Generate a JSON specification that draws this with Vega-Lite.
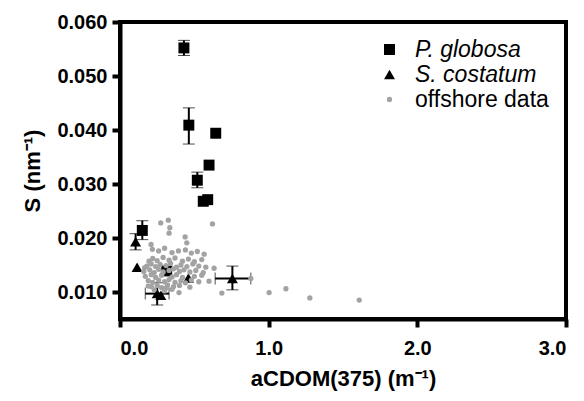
{
  "$schema": "https://vega.github.io/schema/vega-lite/v6.json",
  "width": 446,
  "height": 297,
  "autosize": "none",
  "padding": {"left": 120, "top": 22, "right": 18, "bottom": 82},
  "background": "white",
  "config": {
    "view": {"stroke": "black", "strokeWidth": 4},
    "axis": {
      "grid": false,
      "domainColor": "black", "domainWidth": 4,
      "tickColor": "black", "tickWidth": 4, "tickSize": 8,
      "labelFont": "Liberation Sans", "labelFontWeight": "bold", "labelFontSize": 20, "labelColor": "black",
      "titleFont": "Liberation Sans", "titleFontWeight": "bold", "titleFontSize": 22, "titleColor": "black"
    },
    "legend": {
      "labelFont": "Liberation Sans", "labelFontSize": 23, "labelColor": "black"
    }
  },
  "datasets": {
    "marks": [
      {"group": "P. globosa", "x": 0.43, "y": 0.0552, "ylo": 0.0538, "yhi": 0.0566},
      {"group": "P. globosa", "x": 0.463, "y": 0.0409, "ylo": 0.0374, "yhi": 0.0441},
      {"group": "P. globosa", "x": 0.644, "y": 0.0394},
      {"group": "P. globosa", "x": 0.599, "y": 0.0335},
      {"group": "P. globosa", "x": 0.52, "y": 0.0307, "ylo": 0.0293, "yhi": 0.0322},
      {"group": "P. globosa", "x": 0.56, "y": 0.0268},
      {"group": "P. globosa", "x": 0.59, "y": 0.0271},
      {"group": "P. globosa", "x": 0.15, "y": 0.0214, "ylo": 0.0197, "yhi": 0.0232},
      {"group": "P. globosa", "x": 0.314, "y": 0.0139},
      {"group": "S. costatum", "x": 0.105, "y": 0.0193, "ylo": 0.0178, "yhi": 0.0208},
      {"group": "S. costatum", "x": 0.115, "y": 0.0146},
      {"group": "S. costatum", "x": 0.25, "y": 0.0097, "xlo": 0.17, "xhi": 0.33, "ylo": 0.0076, "yhi": 0.0117},
      {"group": "S. costatum", "x": 0.275, "y": 0.0094},
      {"group": "S. costatum", "x": 0.46, "y": 0.0126},
      {"group": "S. costatum", "x": 0.756, "y": 0.0125, "xlo": 0.64, "xhi": 0.88, "ylo": 0.0104, "yhi": 0.0148},
      {"group": "offshore data", "x": 0.88, "y": 0.0125},
      {"group": "offshore data", "x": 1.003, "y": 0.0099},
      {"group": "offshore data", "x": 1.116, "y": 0.0106},
      {"group": "offshore data", "x": 1.277, "y": 0.0089},
      {"group": "offshore data", "x": 1.609, "y": 0.0085},
      {"group": "offshore data", "x": 0.685, "y": 0.0098},
      {"group": "offshore data", "x": 0.622, "y": 0.0226},
      {"group": "offshore data", "x": 0.633, "y": 0.0144},
      {"group": "offshore data", "x": 0.599, "y": 0.0120},
      {"group": "offshore data", "x": 0.274, "y": 0.0228},
      {"group": "offshore data", "x": 0.325, "y": 0.0233},
      {"group": "offshore data", "x": 0.335, "y": 0.0219},
      {"group": "offshore data", "x": 0.33, "y": 0.0209},
      {"group": "offshore data", "x": 0.438, "y": 0.0202},
      {"group": "offshore data", "x": 0.449, "y": 0.0191},
      {"group": "offshore data", "x": 0.209, "y": 0.0188},
      {"group": "offshore data", "x": 0.218, "y": 0.0179},
      {"group": "offshore data", "x": 0.393, "y": 0.0176},
      {"group": "offshore data", "x": 0.566, "y": 0.0170},
      {"group": "offshore data", "x": 0.577, "y": 0.0146},
      {"group": "offshore data", "x": 0.312, "y": 0.0108},
      {"group": "offshore data", "x": 0.397, "y": 0.0099},
      {"group": "offshore data", "x": 0.19, "y": 0.0111},
      {"group": "offshore data", "x": 0.166, "y": 0.0145},
      {"group": "offshore data", "x": 0.195, "y": 0.0157},
      {"group": "offshore data", "x": 0.26, "y": 0.0176},
      {"group": "offshore data", "x": 0.30, "y": 0.0181},
      {"group": "offshore data", "x": 0.35, "y": 0.0173},
      {"group": "offshore data", "x": 0.44, "y": 0.0178},
      {"group": "offshore data", "x": 0.48, "y": 0.0172},
      {"group": "offshore data", "x": 0.52, "y": 0.0175},
      {"group": "offshore data", "x": 0.22, "y": 0.0162},
      {"group": "offshore data", "x": 0.25, "y": 0.0158},
      {"group": "offshore data", "x": 0.29, "y": 0.0164},
      {"group": "offshore data", "x": 0.33, "y": 0.0159},
      {"group": "offshore data", "x": 0.37, "y": 0.0163},
      {"group": "offshore data", "x": 0.42, "y": 0.0157},
      {"group": "offshore data", "x": 0.46, "y": 0.0161},
      {"group": "offshore data", "x": 0.50, "y": 0.0156},
      {"group": "offshore data", "x": 0.55, "y": 0.0160},
      {"group": "offshore data", "x": 0.18, "y": 0.0148},
      {"group": "offshore data", "x": 0.21, "y": 0.0152},
      {"group": "offshore data", "x": 0.24, "y": 0.0147},
      {"group": "offshore data", "x": 0.27, "y": 0.0151},
      {"group": "offshore data", "x": 0.31, "y": 0.0149},
      {"group": "offshore data", "x": 0.34, "y": 0.0153},
      {"group": "offshore data", "x": 0.38, "y": 0.0146},
      {"group": "offshore data", "x": 0.41, "y": 0.0150},
      {"group": "offshore data", "x": 0.45, "y": 0.0147},
      {"group": "offshore data", "x": 0.49, "y": 0.0152},
      {"group": "offshore data", "x": 0.53, "y": 0.0148},
      {"group": "offshore data", "x": 0.16, "y": 0.0138},
      {"group": "offshore data", "x": 0.20, "y": 0.0141},
      {"group": "offshore data", "x": 0.23, "y": 0.0136},
      {"group": "offshore data", "x": 0.26, "y": 0.0142},
      {"group": "offshore data", "x": 0.29, "y": 0.0137},
      {"group": "offshore data", "x": 0.33, "y": 0.0140},
      {"group": "offshore data", "x": 0.36, "y": 0.0143},
      {"group": "offshore data", "x": 0.40, "y": 0.0138},
      {"group": "offshore data", "x": 0.43, "y": 0.0141},
      {"group": "offshore data", "x": 0.47, "y": 0.0137},
      {"group": "offshore data", "x": 0.51, "y": 0.0140},
      {"group": "offshore data", "x": 0.56, "y": 0.0136},
      {"group": "offshore data", "x": 0.17, "y": 0.0129},
      {"group": "offshore data", "x": 0.21, "y": 0.0132},
      {"group": "offshore data", "x": 0.24, "y": 0.0127},
      {"group": "offshore data", "x": 0.28, "y": 0.0131},
      {"group": "offshore data", "x": 0.35, "y": 0.0128},
      {"group": "offshore data", "x": 0.38, "y": 0.0132},
      {"group": "offshore data", "x": 0.42, "y": 0.0127},
      {"group": "offshore data", "x": 0.50, "y": 0.0129},
      {"group": "offshore data", "x": 0.55, "y": 0.0131},
      {"group": "offshore data", "x": 0.19, "y": 0.0121},
      {"group": "offshore data", "x": 0.22, "y": 0.0118},
      {"group": "offshore data", "x": 0.26, "y": 0.0122},
      {"group": "offshore data", "x": 0.30, "y": 0.0119},
      {"group": "offshore data", "x": 0.33, "y": 0.0123},
      {"group": "offshore data", "x": 0.37, "y": 0.0118},
      {"group": "offshore data", "x": 0.41, "y": 0.0121},
      {"group": "offshore data", "x": 0.44, "y": 0.0117},
      {"group": "offshore data", "x": 0.48, "y": 0.0122},
      {"group": "offshore data", "x": 0.53, "y": 0.0119},
      {"group": "offshore data", "x": 0.21, "y": 0.0110},
      {"group": "offshore data", "x": 0.25, "y": 0.0112},
      {"group": "offshore data", "x": 0.28, "y": 0.0108},
      {"group": "offshore data", "x": 0.32, "y": 0.0113},
      {"group": "offshore data", "x": 0.36, "y": 0.0110},
      {"group": "offshore data", "x": 0.40, "y": 0.0112},
      {"group": "offshore data", "x": 0.47, "y": 0.0109},
      {"group": "offshore data", "x": 0.23, "y": 0.0104},
      {"group": "offshore data", "x": 0.30, "y": 0.0102},
      {"group": "offshore data", "x": 0.35, "y": 0.0105}
    ]
  },
  "data": {"name": "marks"},
  "layer": [
    {
      "transform": [{"filter": "isValid(datum.ylo)"}],
      "mark": {"type": "errorbar", "ticks": {"size": 12}, "rule": {"strokeWidth": 2}, "color": "black"},
      "encoding": {
        "x": {"field": "x", "type": "quantitative", "scale": {"domain": [0, 3], "nice": false},
          "axis": {"values": [0, 1, 2, 3], "format": ".1f", "title": "aCDOM(375) (m⁻¹)", "labelPadding": 11, "titlePadding": 10}},
        "y": {"field": "ylo", "type": "quantitative", "scale": {"domain": [0.005, 0.06], "nice": false, "zero": false},
          "axis": {"values": [0.01, 0.02, 0.03, 0.04, 0.05, 0.06], "format": ".3f", "title": "S (nm⁻¹)", "labelPadding": 5, "titlePadding": 12}},
        "y2": {"field": "yhi"}
      }
    },
    {
      "transform": [{"filter": "isValid(datum.xlo)"}],
      "mark": {"type": "errorbar", "ticks": {"size": 12}, "rule": {"strokeWidth": 2}, "color": "black"},
      "encoding": {
        "y": {"field": "y", "type": "quantitative", "scale": {"domain": [0.005, 0.06], "nice": false, "zero": false},
          "axis": {"values": [0.01, 0.02, 0.03, 0.04, 0.05, 0.06], "format": ".3f", "title": "S (nm⁻¹)", "labelPadding": 5, "titlePadding": 12}},
        "x": {"field": "xlo", "type": "quantitative", "scale": {"domain": [0, 3], "nice": false},
          "axis": {"values": [0, 1, 2, 3], "format": ".1f", "title": "aCDOM(375) (m⁻¹)", "labelPadding": 11, "titlePadding": 10}},
        "x2": {"field": "xhi"}
      }
    },
    {
      "mark": {"type": "point", "filled": true, "opacity": 1},
      "encoding": {
        "x": {"field": "x", "type": "quantitative",
          "scale": {"domain": [0, 3], "nice": false},
          "axis": {"values": [0, 1, 2, 3], "format": ".1f", "title": "aCDOM(375) (m⁻¹)", "labelPadding": 11, "titlePadding": 10}},
        "y": {"field": "y", "type": "quantitative",
          "scale": {"domain": [0.005, 0.06], "nice": false, "zero": false},
          "axis": {"values": [0.01, 0.02, 0.03, 0.04, 0.05, 0.06], "format": ".3f", "title": "S (nm⁻¹)", "labelPadding": 5, "titlePadding": 12}},
        "shape": {"field": "group", "type": "nominal",
          "scale": {"domain": ["P. globosa", "S. costatum", "offshore data"], "range": ["square", "triangle-up", "circle"]},
          "legend": {"title": null, "orient": "none", "legendX": 258, "legendY": 16, "rowPadding": 1, "labelOffset": 14, "symbolStrokeWidth": 0,
            "labelFontStyle": {"expr": "datum.label === 'offshore data' ? 'normal' : 'italic'"}}},
        "color": {"field": "group", "type": "nominal",
          "scale": {"domain": ["P. globosa", "S. costatum", "offshore data"], "range": ["black", "black", "#a3a3a3"]}},
        "size": {"field": "group", "type": "nominal",
          "scale": {"type": "ordinal", "domain": ["P. globosa", "S. costatum", "offshore data"], "range": [120, 120, 28]}}
      }
    }
  ]
}
